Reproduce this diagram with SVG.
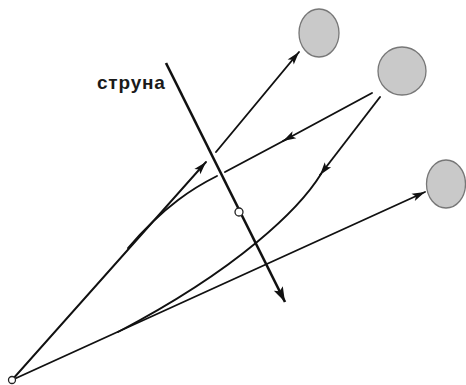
<svg xmlns="http://www.w3.org/2000/svg" width="466" height="385" viewBox="0 0 466 385">
<style>
.ray{fill:none;stroke:#111;stroke-width:1.9;stroke-linecap:round}
.ball{fill:#c9c9c9;stroke:#777;stroke-width:1.3}
.dot{fill:#fff;stroke:#222;stroke-width:1.3}
.lbl{font-family:"Liberation Sans",Arial,sans-serif;font-weight:bold;font-size:19px;letter-spacing:0.8px;fill:#1a1a1a}
</style>
<defs>
<marker id="ah" markerUnits="userSpaceOnUse" markerWidth="16" markerHeight="12" viewBox="-14 -6 16 12" refX="0" refY="0" orient="auto">
<path d="M0,0 L-13,-4 L-10,0 L-13,4 z" fill="#111"/>
</marker>
<marker id="ahs" markerUnits="userSpaceOnUse" markerWidth="18" markerHeight="14" viewBox="-16 -7 18 14" refX="0" refY="0" orient="auto">
<path d="M0,0 L-15,-5 L-12,0 L-15,5 z" fill="#111"/>
</marker>
</defs>
<g id="ball-top"><ellipse class="ball" cx="319" cy="33" rx="20" ry="24"/></g>
<g id="ball-mid"><ellipse class="ball" cx="402" cy="71" rx="24" ry="24"/></g>
<g id="ball-right"><ellipse class="ball" cx="446" cy="184" rx="19.5" ry="24"/></g>
<g id="label"><text class="lbl" x="97" y="89">струна</text></g>
<g id="connectors">
<path class="ray" d="M12,380 L206,162" marker-end="url(#ah)"/>
<path class="ray" d="M216,152 L299,52" marker-end="url(#ah)"/>
<path class="ray" d="M12,380 L425,192" marker-end="url(#ah)"/>
<path class="ray" d="M372,93 L283,141" marker-end="url(#ah)"/>
<path class="ray" d="M287,139 L225,172"/>
<path class="ray" d="M217,176 C195,187 165,205 128,248"/>
<path class="ray" d="M380,97 L320,175" marker-end="url(#ah)"/>
<path class="ray" d="M321,174 C300,208 240,268 118,332"/>
</g>
<g id="string">
<path d="M166,63 L285,302" fill="none" stroke="#111" stroke-width="2.6" marker-end="url(#ahs)"/>
</g>
<g id="string-point"><circle class="dot" cx="239" cy="212" r="4"/></g>
<g id="source"><circle class="dot" cx="12" cy="380" r="3.5"/></g>
</svg>
